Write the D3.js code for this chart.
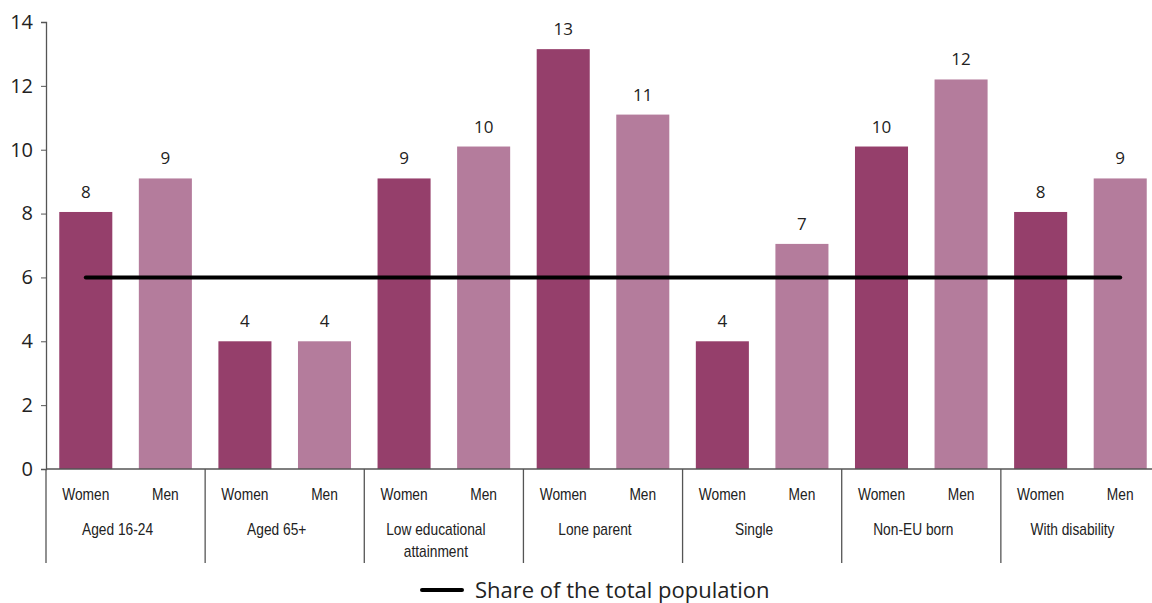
<!DOCTYPE html>
<html>
<head>
<meta charset="utf-8">
<script src="https://cdn.jsdelivr.net/npm/d3@7"></script>
<style>
  body { margin: 0; background: #fff; overflow: hidden; }
  .tick text { font-family: "Open Sans", sans-serif; }
</style>
</head>
<body>
<div id="chart"></div>
<script>
var svgWidth = 1152;
var svgHeight = 603;

// plot runs a little past the right edge, like the original
var margin = { top: 22, right: -8, bottom: 134, left: 46 };

var width = svgWidth - margin.left - margin.right;
var height = svgHeight - margin.top - margin.bottom;

// data
var groups = ["Aged 16-24", "Aged 65+", "Low educational attainment", "Lone parent", "Single", "Non-EU born", "With disability"];
var sexes = ["Women", "Men"];
var women = [8.05, 4.0, 9.1, 13.15, 4.0, 10.1, 8.05];
var men = [9.1, 4.0, 10.1, 11.1, 7.05, 12.2, 9.1];
var totalShare = 6.0;
var yTicks = [0, 2, 4, 6, 8, 10, 12, 14];
var legendLabel = "Share of the total population";

var colors = { Women: "#953f6b", Men: "#b47c9c" };

var rows = [];
groups.forEach(function(g, i) {
  rows.push({ group: g, sex: "Women", key: g + "|Women", value: women[i] });
  rows.push({ group: g, sex: "Men", key: g + "|Men", value: men[i] });
});

var svg = d3.select("#chart")
  .append("svg")
  .attr("width", svgWidth)
  .attr("height", svgHeight);

var chart = svg.append("g")
  .attr("transform", "translate(" + margin.left + "," + margin.top + ")");

var x = d3.scaleBand()
  .domain(rows.map(function(d) { return d.key; }))
  .range([0, width])
  .paddingInner(1 / 3)
  .paddingOuter(1 / 6);

var xGroup = d3.scaleBand()
  .domain(groups)
  .range([0, width]);

var y = d3.scaleLinear()
  .domain([0, 14])
  .range([height, 0]);

// y axis
var yAxis = chart.append("g")
  .call(d3.axisLeft(y).tickValues(yTicks).tickSize(5).tickPadding(8));
yAxis.select(".domain").attr("stroke", "#555").attr("stroke-width", 1.3);
yAxis.selectAll(".tick line").attr("stroke", "#555");
yAxis.selectAll(".tick text")
  .attr("font-size", 20)
  .attr("fill", "#222");

// bars
chart.selectAll("rect.bar")
  .data(rows)
  .enter()
  .append("rect")
  .attr("class", "bar")
  .attr("x", function(d) { return x(d.key); })
  .attr("y", function(d) { return y(d.value); })
  .attr("width", x.bandwidth())
  .attr("height", function(d) { return y(0) - y(d.value); })
  .attr("fill", function(d) { return colors[d.sex]; });

// value labels
chart.selectAll("text.val")
  .data(rows)
  .enter()
  .append("text")
  .attr("class", "val")
  .attr("x", function(d) { return x(d.key) + x.bandwidth() / 2; })
  .attr("y", function(d) { return y(d.value) - 14; })
  .attr("text-anchor", "middle")
  .attr("font-family", "Open Sans, sans-serif")
  .attr("font-size", 17)
  .attr("fill", "#222")
  .text(function(d) { return Math.round(d.value); });

// x axis baseline
chart.append("line")
  .attr("x1", 0)
  .attr("x2", width)
  .attr("y1", y(0))
  .attr("y2", y(0))
  .attr("stroke", "#555")
  .attr("stroke-width", 1.3);

// group separators
chart.selectAll("line.sep")
  .data(groups)
  .enter()
  .append("line")
  .attr("class", "sep")
  .attr("x1", function(d) { return xGroup(d); })
  .attr("x2", function(d) { return xGroup(d); })
  .attr("y1", y(0))
  .attr("y2", y(0) + 94)
  .attr("stroke", "#555")
  .attr("stroke-width", 1.3);

// condensed look: squeeze the category text horizontally
var squeeze = 0.86;
var labelFont = "Liberation Sans Narrow, Arial Narrow, Liberation Sans, sans-serif";

// sex labels
chart.selectAll("text.sex")
  .data(rows)
  .enter()
  .append("text")
  .attr("class", "sex")
  .attr("transform", function(d) {
    return "translate(" + (x(d.key) + x.bandwidth() / 2) + "," + (y(0) + 31) + ") scale(" + squeeze + ",1)";
  })
  .attr("text-anchor", "middle")
  .attr("font-family", labelFont)
  .attr("font-size", 16)
  .attr("fill", "#222")
  .text(function(d) { return d.sex; });

// group labels (wrap long one), sit a bit left of the group centre
var wrapLines = {
  "Low educational attainment": ["Low educational", "attainment"]
};
chart.selectAll("text.grp")
  .data(groups)
  .enter()
  .append("text")
  .attr("class", "grp")
  .attr("transform", function(d) {
    return "translate(" + (xGroup(d) + xGroup.bandwidth() / 2 - 8) + "," + (y(0) + 66) + ") scale(" + squeeze + ",1)";
  })
  .attr("text-anchor", "middle")
  .attr("font-family", labelFont)
  .attr("font-size", 16)
  .attr("fill", "#222")
  .each(function(d) {
    var lines = wrapLines[d] || [d];
    var t = d3.select(this);
    lines.forEach(function(l, i) {
      t.append("tspan")
        .attr("x", 0)
        .attr("dy", i === 0 ? 0 : 22)
        .text(l);
    });
  });

// total population line
chart.append("line")
  .attr("x1", x(rows[0].key) + x.bandwidth() / 2)
  .attr("x2", x(rows[rows.length - 1].key) + x.bandwidth() / 2)
  .attr("y1", y(totalShare))
  .attr("y2", y(totalShare))
  .attr("stroke", "#000")
  .attr("stroke-width", 4)
  .attr("stroke-linecap", "round");

// legend
var legend = svg.append("g").attr("transform", "translate(422,590)");
legend.append("line")
  .attr("x1", 0).attr("x2", 40)
  .attr("y1", 0).attr("y2", 0)
  .attr("stroke", "#000")
  .attr("stroke-width", 4)
  .attr("stroke-linecap", "round");
legend.append("text")
  .attr("x", 53)
  .attr("y", 0)
  .attr("dy", "0.35em")
  .attr("font-family", "Open Sans, sans-serif")
  .attr("font-size", 22)
  .attr("fill", "#222")
  .text(legendLabel);
</script>
</body>
</html>
